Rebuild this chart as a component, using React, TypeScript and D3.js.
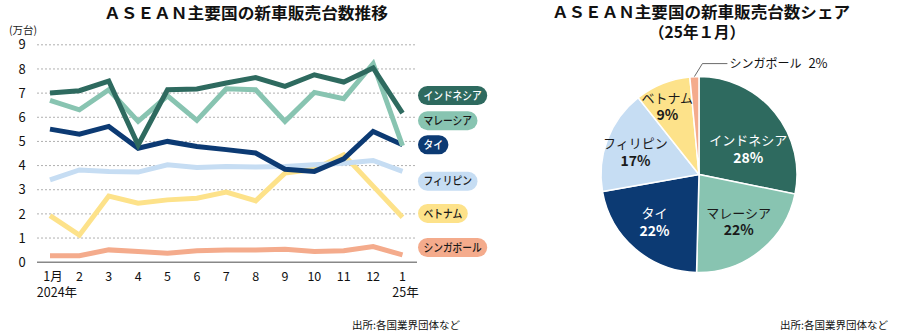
import React from "react";
import * as d3 from "d3";

const months = ["1月", "2", "3", "4", "5", "6", "7", "8", "9", "10", "11", "12", "1"];
const yearLabels = ["2024年", "", "", "", "", "", "", "", "", "", "", "", "25年"];
const yTicks = [0, 1, 2, 3, 4, 5, 6, 7, 8, 9];

const seriesNames = ["インドネシア", "マレーシア", "タイ", "フィリピン", "ベトナム", "シンガポール"];
const indonesia = [7.0, 7.1, 7.5, 4.85, 7.14, 7.17, 7.42, 7.64, 7.28, 7.76, 7.46, 8.04, 6.17];
const malaysia = [6.7, 6.31, 7.14, 5.83, 6.89, 5.87, 7.18, 7.14, 5.83, 7.03, 6.77, 8.22, 4.82];
const thailand = [5.51, 5.3, 5.62, 4.72, 5.0, 4.79, 4.66, 4.52, 3.85, 3.76, 4.28, 5.41, 4.86];
const philippines = [3.41, 3.82, 3.75, 3.73, 4.03, 3.92, 3.96, 3.94, 3.96, 4.03, 4.1, 4.21, 3.76];
const vietnam = [1.93, 1.12, 2.74, 2.44, 2.58, 2.65, 2.9, 2.54, 3.69, 3.85, 4.45, 3.15, 1.86];
const singapore = [0.27, 0.27, 0.51, 0.44, 0.37, 0.47, 0.5, 0.51, 0.54, 0.44, 0.47, 0.65, 0.3];
const legendValues = [6.9, 5.86, 4.86, 3.35, 2.02, 0.61];

const shareValues = [28.3, 22.3, 21.9, 17.2, 9.2, 1.5];

const colors = ["#2e6a5f", "#88c4b1", "#0c3a73", "#c6ddf3", "#fde28a", "#f4ab8c"];
const textOnColor = ["#ffffff", "#1a1a1a", "#ffffff", "#1a1a1a", "#1a1a1a", "#1a1a1a"];
const pieLabelNudge = [[0, 15], [0, -3], [-3, -1], [-4, 0], [-8, -9], [0, 0]];

const JP = "'Noto Sans CJK JP', 'Noto Sans', sans-serif";
const NUM = "'Liberation Sans Narrow', 'Noto Sans CJK JP', sans-serif";

export default function App() {
  const allSeries = [indonesia, malaysia, thailand, philippines, vietnam, singapore];
  const x = d3.scalePoint<number>().domain(d3.range(months.length)).range([50, 402.5]);
  const y = d3.scaleLinear().domain([0, 9]).range([262.2, 44.8]);
  const line = d3
    .line<number>()
    .x((_, i) => x(i) as number)
    .y((v) => y(v));

  const cx = 699, cy = 174.5, R = 98;
  const pie = d3.pie<number>().sort(null).value((d) => d)(shareValues);
  const arc = d3.arc<d3.PieArcDatum<number>>().innerRadius(0).outerRadius(R);
  const labelArc = d3.arc<d3.PieArcDatum<number>>().innerRadius(R * 0.65).outerRadius(R * 0.65);

  const pillW = (s: string) => s.length * 9.7 + 11;

  const sg = pie[5];
  const sgMid = (sg.startAngle + sg.endAngle) / 2;
  const sgStart = [cx + R * Math.sin(sgMid), cy - R * Math.cos(sgMid)];
  const sgElbow = [sgStart[0] + 8, sgStart[1] - 13];
  const sgEnd = [sgElbow[0] + 25, sgElbow[1]];

  return (
    <div>
      <style>{"body{margin:0}"}</style>
      <svg width={900} height={336} style={{ display: "block", background: "#fff" }}>
        {/* Left title */}
        <text x={246} y={18.5} textAnchor="middle" fontFamily={JP} fontWeight={700} fontSize={15.5}
          textLength={284} lengthAdjust="spacingAndGlyphs" fill="#111">
          ＡＳＥＡＮ主要国の新車販売台数推移
        </text>
        <text x={9} y={34} fontFamily={JP} fontSize={10.5} fill="#222">
          (万台)
        </text>

        {/* grid */}
        {yTicks.map((t) => (
          <g key={t}>
            {t > 0 && (
              <line x1={37} x2={417} y1={y(t)} y2={y(t)} stroke="#b0b0b0" strokeWidth={1} strokeDasharray="2,2" />
            )}
            <text x={22} y={y(t)} dy="0.36em" textAnchor="middle" fontFamily={NUM} fontSize={13} fill="#111">
              {t}
            </text>
          </g>
        ))}
        <line x1={37} x2={417} y1={y(0)} y2={y(0)} stroke="#888" strokeWidth={1.5} />

        {/* x ticks */}
        {months.map((m, i) => (
          <g key={i}>
            <text x={(x(i) as number) + (i === 0 ? 3 : 0)} y={281} textAnchor="middle" fontFamily={NUM} fontSize={12.5} fill="#111">
              {m}
            </text>
            {yearLabels[i] && (
              <text x={(x(i) as number) + (i === 0 ? 7 : 3)} y={297} textAnchor="middle" fontFamily={NUM} fontSize={12.5} fill="#111">
                {yearLabels[i]}
              </text>
            )}
          </g>
        ))}

        {/* lines (draw bottom-up so Indonesia is on top) */}
        {allSeries
          .map((s, i) => ({ s, i }))
          .reverse()
          .map(({ s, i }) => (
            <path key={i} d={line(s) || ""} fill="none" stroke={colors[i]} strokeWidth={5} strokeLinejoin="miter" />
          ))}

        {/* legend pills */}
        {seriesNames.map((n, i) => {
          const w = pillW(n);
          const yc = y(legendValues[i]);
          return (
            <g key={n}>
              <rect x={418} y={yc - 9.5} width={w} height={19} rx={9.5} ry={9.5} fill={colors[i]} />
              <text x={418 + w / 2} y={yc} dy="0.36em" textAnchor="middle" fontFamily={JP} fontSize={11.5}
                fontWeight={500} fill={textOnColor[i]} textLength={w - 11} lengthAdjust="spacingAndGlyphs">
                {n}
              </text>
            </g>
          );
        })}

        <text x={460} y={329} textAnchor="end" fontFamily={JP} fontSize={10.5} fill="#111">
          出所:各国業界団体など
        </text>

        {/* Right title */}
        <text x={701} y={18} textAnchor="middle" fontFamily={JP} fontWeight={700} fontSize={15.5}
          textLength={298} lengthAdjust="spacingAndGlyphs" fill="#111">
          ＡＳＥＡＮ主要国の新車販売台数シェア
        </text>
        <text x={697} y={37.5} textAnchor="middle" fontFamily={JP} fontWeight={700} fontSize={15.5} fill="#111">
          （25年１月）
        </text>

        {/* pie */}
        <g>
          {pie.map((p, i) => (
            <path key={i} d={arc(p) || ""} transform={`translate(${cx},${cy})`} fill={colors[i]} stroke="#fff" strokeWidth={1.5} />
          ))}
          {pie.slice(0, 5).map((p, i) => {
            const [lx, ly] = labelArc.centroid(p);
            const px = cx + lx + pieLabelNudge[i][0];
            const py = cy + ly + pieLabelNudge[i][1];
            return (
              <g key={i}>
                <text x={px} y={py - 8.5} dy="0.36em" textAnchor="middle" fontFamily={JP} fontSize={13} fill={textOnColor[i]}>
                  {seriesNames[i]}
                </text>
                <text x={px} y={py + 9} dy="0.36em" textAnchor="middle" fontFamily={NUM} fontWeight={700} fontSize={14} fill={textOnColor[i]}>
                  {Math.round(shareValues[i])}%
                </text>
              </g>
            );
          })}
          <polyline
            points={`${sgStart[0]},${sgStart[1]} ${sgElbow[0]},${sgElbow[1]} ${sgEnd[0]},${sgEnd[1]}`}
            fill="none" stroke="#444" strokeWidth={0.8}
          />
          <text x={sgEnd[0] + 2} y={sgEnd[1]} dy="0.36em" fontFamily={JP} fontSize={12} fill="#111">
            {seriesNames[5]}
          </text>
          <text x={sgEnd[0] + 81} y={sgEnd[1]} dy="0.36em" fontFamily={NUM} fontSize={13} fill="#111">
            {Math.round(shareValues[5])}%
          </text>
        </g>

        <text x={888} y={329} textAnchor="end" fontFamily={JP} fontSize={10.5} fill="#111">
          出所:各国業界団体など
        </text>
      </svg>
    </div>
  );
}
